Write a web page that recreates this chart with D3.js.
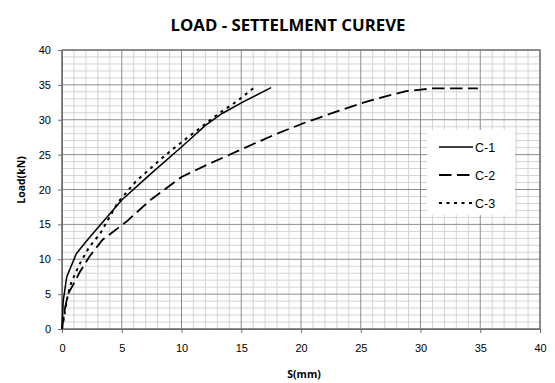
<!DOCTYPE html>
<html>
<head>
<meta charset="utf-8">
<script src="https://cdn.jsdelivr.net/npm/d3@7"></script>
<style>
  body { margin: 0; background: #fff; }
  svg { display: block; }
</style>
</head>
<body>
<div id="chart"></div>
<script>
// settlement (mm), load (kN)
const c1 = [[0,0],[0.1,4],[0.4,7.5],[1.2,10.8],[2.0,12.5],[3.2,14.9],[5.0,18.5],[7.4,22.2],[10.0,26.1],[12.0,29.2],[13.4,30.9],[15.2,32.6],[17.5,34.6]];
const c2 = [[0,0],[0.25,3],[0.5,5],[0.95,6.4],[1.5,8.2],[2.3,10.4],[3.4,12.8],[5.4,15.4],[7.4,18.5],[10,21.8],[12.2,23.6],[15.2,25.9],[17.7,27.8],[20.2,29.5],[23.2,31.3],[25.5,32.6],[27.4,33.5],[28.8,34.1],[31,34.5],[34.8,34.5]];
const c3 = [[0,0],[0.3,3],[0.5,5],[0.8,6.8],[1.5,9.4],[2.3,11.8],[3.2,13.7],[4.7,18.2],[6.2,21.2],[7.9,23.8],[9.2,25.7],[10.4,27.3],[13.2,31],[14.6,32.6],[16,34.5]];
const seriesNames = ['C-1', 'C-2', 'C-3'];
const xTicks = [0, 5, 10, 15, 20, 25, 30, 35, 40];
const yTicks = [0, 5, 10, 15, 20, 25, 30, 35, 40];

const W = 555, H = 383;
const margin = { top: 50, right: 15, bottom: 54, left: 62 };
const width = W - margin.left - margin.right;
const height = H - margin.top - margin.bottom;

const svg = d3.select('#chart').append('svg')
    .attr('width', W)
    .attr('height', H);

const g = svg.append('g')
    .attr('transform', `translate(${margin.left},${margin.top})`);

const x = d3.scaleLinear().domain([0, 40]).range([0, width]);
const y = d3.scaleLinear().domain([0, 40]).range([height, 0]);

// minor grid
const minor = d3.range(0, 41, 1).filter(v => v % 5 !== 0);
g.append('g').selectAll('line').data(minor).join('line')
    .attr('x1', d => x(d)).attr('x2', d => x(d))
    .attr('y1', 0).attr('y2', height)
    .attr('stroke', '#d4d4d4').attr('stroke-width', 1);
g.append('g').selectAll('line').data(minor).join('line')
    .attr('y1', d => y(d)).attr('y2', d => y(d))
    .attr('x1', 0).attr('x2', width)
    .attr('stroke', '#d4d4d4').attr('stroke-width', 1);

// major grid
g.append('g').selectAll('line').data(xTicks).join('line')
    .attr('x1', d => x(d)).attr('x2', d => x(d))
    .attr('y1', 0).attr('y2', height)
    .attr('stroke', '#8c8c8c').attr('stroke-width', 1);
g.append('g').selectAll('line').data(yTicks).join('line')
    .attr('y1', d => y(d)).attr('y2', d => y(d))
    .attr('x1', 0).attr('x2', width)
    .attr('stroke', '#8c8c8c').attr('stroke-width', 1);

g.append('rect')
    .attr('width', width).attr('height', height)
    .attr('fill', 'none').attr('stroke', '#6e6e6e').attr('stroke-width', 1.3);

// axes
const xAxis = g.append('g')
    .attr('transform', `translate(0,${height})`)
    .call(d3.axisBottom(x).tickValues(xTicks).tickSize(4).tickPadding(11));
const yAxis = g.append('g')
    .call(d3.axisLeft(y).tickValues(yTicks).tickSize(4).tickPadding(7));
[xAxis, yAxis].forEach(a => {
  a.select('.domain').attr('stroke', '#6e6e6e');
  a.selectAll('.tick line').attr('stroke', '#6e6e6e');
  a.selectAll('text')
      .attr('font-family', 'Liberation Sans, Arial, sans-serif')
      .attr('font-size', 11)
      .attr('fill', '#000');
});

// curves
const line = d3.line().x(d => x(d[0])).y(d => y(d[1]));
const styles = [
  { data: c1, dash: null, w: 1.5 },
  { data: c2, dash: '12.5,5.5', w: 1.8 },
  { data: c3, dash: '3,4.5', w: 2 }
];
styles.forEach(s => {
  g.append('path')
      .datum(s.data)
      .attr('fill', 'none')
      .attr('stroke', '#000')
      .attr('stroke-width', s.w)
      .attr('stroke-dasharray', s.dash)
      .attr('d', line);
});

// legend
const legend = svg.append('g').attr('transform', 'translate(427,130)');
legend.append('rect')
    .attr('width', 88).attr('height', 85)
    .attr('fill', '#fff');
seriesNames.forEach((name, i) => {
  const ly = 17 + i * 28;
  legend.append('line')
      .attr('x1', 12).attr('x2', 46)
      .attr('y1', ly).attr('y2', ly)
      .attr('stroke', '#000')
      .attr('stroke-width', styles[i].w)
      .attr('stroke-dasharray', styles[i].dash);
  legend.append('text')
      .attr('x', 48).attr('y', ly + 4.5)
      .attr('font-family', 'Liberation Sans, Arial, sans-serif')
      .attr('font-size', 12.5)
      .text(name);
});

// titles
svg.append('text')
    .attr('x', 288).attr('y', 31)
    .attr('text-anchor', 'middle')
    .attr('font-family', 'Open Sans, sans-serif')
    .attr('font-weight', 'bold')
    .attr('font-size', 16.8)
    .attr('textLength', 235)
    .attr('lengthAdjust', 'spacingAndGlyphs')
    .text('LOAD - SETTELMENT CUREVE');

svg.append('text')
    .attr('x', 304).attr('y', 378)
    .attr('text-anchor', 'middle')
    .attr('font-family', 'Open Sans, sans-serif')
    .attr('font-weight', 'bold')
    .attr('font-size', 10.5)
    .text('S(mm)');

svg.append('text')
    .attr('transform', 'translate(25,180) rotate(-90)')
    .attr('text-anchor', 'middle')
    .attr('font-family', 'Open Sans, sans-serif')
    .attr('font-weight', 'bold')
    .attr('font-size', 10.5)
    .text('Load(kN)');
</script>
</body>
</html>
